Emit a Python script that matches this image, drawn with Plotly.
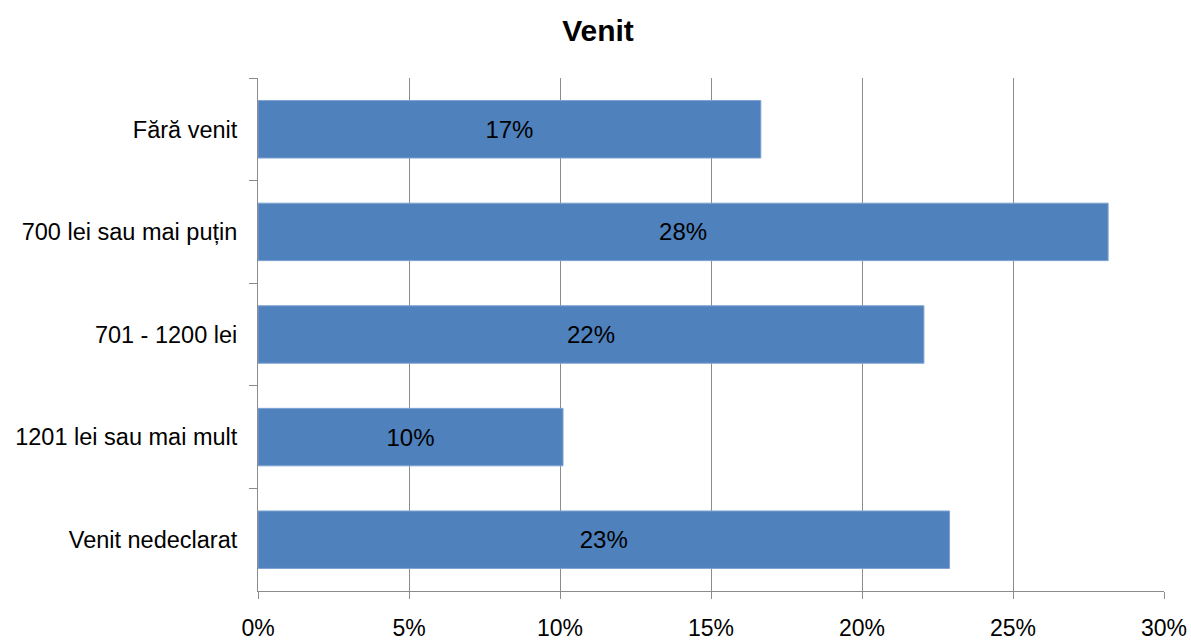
import plotly.graph_objects as go

categories = ["Fără venit", "700 lei sau mai puțin", "701 - 1200 lei", "1201 lei sau mai mult", "Venit nedeclarat"]
values = [16.65, 28.15, 22.05, 10.1, 22.9]
labels = ["17%", "28%", "22%", "10%", "23%"]
tick_vals = [0, 5, 10, 15, 20, 25, 30]
tick_text = ["0%", "5%", "10%", "15%", "20%", "25%", "30%"]

FONT = "Liberation Sans, Arial, sans-serif"

fig = go.Figure(go.Bar(
    x=values, y=categories, orientation="h",
    marker=dict(color="#4F81BD", line=dict(color="#7EA3D3", width=1)),
    text=labels, textposition="inside", insidetextanchor="middle",
    textfont=dict(family=FONT, size=24, color="black"),
    width=0.56,
))

W, H = 1191, 641
fig.update_layout(
    width=W, height=H,
    margin=dict(l=258, r=27, t=78, b=50, autoexpand=False),
    paper_bgcolor="white", plot_bgcolor="white",
    title=dict(text="<b>Venit</b>", x=598 / W, xanchor="center", y=1 - 30 / H, yanchor="middle",
               font=dict(family=FONT, size=30, color="black")),
    showlegend=False,
    font=dict(family=FONT, size=23, color="black"),
)
fig.update_xaxes(
    range=[0, 30], tickvals=tick_vals, ticktext=tick_text,
    showgrid=True, gridcolor="#8C8C8C", gridwidth=1,
    showline=True, linecolor="#8C8C8C", linewidth=1,
    ticks="outside", ticklen=7, tickcolor="#8C8C8C",
    ticklabelstandoff=9, zeroline=False, automargin=False,
    tickfont=dict(family=FONT, size=23, color="black"),
)
fig.update_yaxes(
    autorange="reversed", type="category", tickson="boundaries",
    showgrid=False, showline=True, linecolor="#8C8C8C", linewidth=1,
    ticks="outside", ticklen=8, tickcolor="#8C8C8C",
    ticklabelstandoff=15, automargin=False,
    tickfont=dict(family=FONT, size=23.5, color="black"),
)

fig.write_html(
    "out.html",
    config={"displayModeBar": False},
    post_script="document.body.style.margin='0';document.documentElement.style.overflow='hidden';",
)
